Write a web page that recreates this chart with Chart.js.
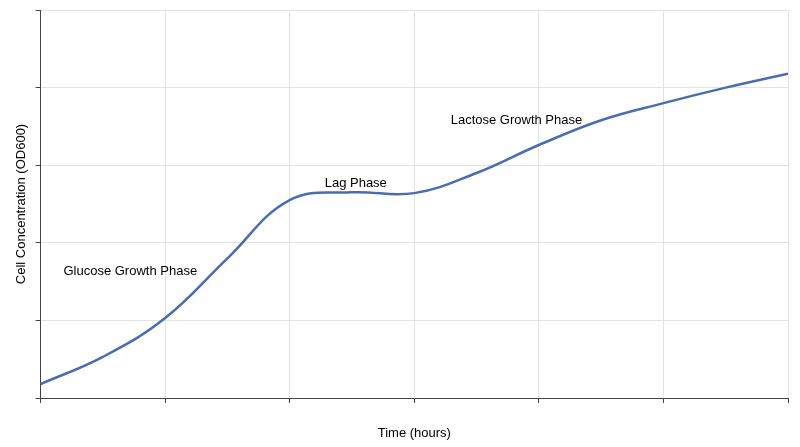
<!DOCTYPE html>
<html>
<head>
  <script src="https://cdn.jsdelivr.net/npm/chart.js"></script>
  <style>body{margin:0;background:#fff}#wrap{width:800px;height:447px}</style>
</head>
<body>
<div id="wrap"><canvas id="growthChart"></canvas></div>
<script>
  // growth curve
  const hours = [0, 0.5, 1, 1.5, 2, 2.5, 3, 3.5, 4, 4.5, 5, 5.5, 6];
  const od600 = [0.18, 0.53, 1.03, 1.80, 2.55, 2.65, 2.64, 2.90, 3.26, 3.58, 3.80, 4.00, 4.18];

  const phaseLabels = ['Glucose Growth Phase', 'Lag Phase', 'Lactose Growth Phase'];
  const phaseX = [0.72, 2.53, 3.82];
  const phaseY = [1.63, 2.77, 3.58];

  const phaseText = {
    id: 'phaseText',
    afterDatasetsDraw(chart) {
      const ctx = chart.ctx, x = chart.scales.x, y = chart.scales.y;
      ctx.save();
      ctx.font = '13px "Liberation Sans", Arial, sans-serif';
      ctx.fillStyle = '#000';
      ctx.textAlign = 'center';
      ctx.textBaseline = 'middle';
      phaseLabels.forEach((t, i) => ctx.fillText(t, x.getPixelForValue(phaseX[i]), y.getPixelForValue(phaseY[i])));
      ctx.restore();
    }
  };

  new Chart(document.getElementById('growthChart'), {
    type: 'line',
    data: {
      datasets: [{
        data: hours.map((h, i) => ({x: h, y: od600[i]})),
        borderColor: '#4a6db0',
        borderWidth: 2.5,
        pointRadius: 0,
        tension: 0.4,
        fill: false
      }]
    },
    options: {
      responsive: true,
      maintainAspectRatio: false,
      animation: false,
      layout: {padding: {top: 10, right: 12, left: 10, bottom: 2}},
      plugins: {legend: {display: false}, tooltip: {enabled: false}},
      scales: {
        x: {
          type: 'linear', min: 0, max: 6,
          ticks: {stepSize: 1, callback: () => '', padding: 0},
          grid: {color: '#e3e3e3', tickColor: '#444', tickLength: 5},
          border: {color: '#444'},
          title: {display: true, text: 'Time (hours)', color: '#000', font: {size: 13, family: '"Liberation Sans", Arial'}, padding: {top: 8}}
        },
        y: {
          min: 0, max: 5,
          ticks: {stepSize: 1, callback: () => '', padding: 0},
          grid: {color: '#e3e3e3', tickColor: '#444', tickLength: 5},
          border: {color: '#444'},
          title: {display: true, text: 'Cell Concentration (OD600)', color: '#000', font: {size: 13, family: '"Liberation Sans", Arial'}, padding: {bottom: 6}}
        }
      }
    },
    plugins: [phaseText]
  });
</script>
</body>
</html>
